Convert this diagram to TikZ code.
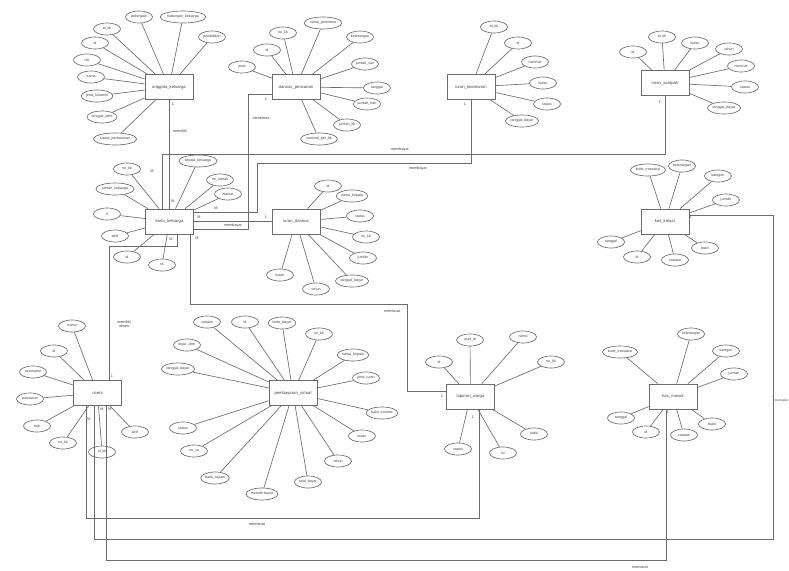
\documentclass[tikz,border=0pt]{standalone}
\usepackage{fontspec}
\setmainfont{Liberation Sans}
\usetikzlibrary{shapes.geometric}
\definecolor{linegray}{gray}{0.42}
\definecolor{textgray}{gray}{0.25}
\tikzset{
 ent/.style={draw=linegray, fill=white, line width=0.7pt, minimum width=48pt, minimum height=25pt, inner sep=0pt, text=textgray, font=\fontsize{4.2}{5}\selectfont},
 attrib/.style={draw=linegray, fill=white, line width=0.65pt, ellipse, minimum width=27pt, minimum height=12pt, inner sep=0.3pt, text=textgray, font=\fontsize{3.6}{4}\selectfont},
 conn/.style={draw=linegray, line width=0.65pt},
 lbl/.style={font=\fontsize{3.8}{4.5}\selectfont, inner sep=0pt, text=textgray, align=center},
}
\newcommand\att[4]{\node[attrib] (#1) at (#2) {#3}; \draw[conn] (#1) -- (#4);}
\begin{document}
\begin{tikzpicture}[x=1pt,y=-1pt]
\useasboundingbox (0,0) rectangle (789,570);
\fill[white] (0,0) rectangle (789,570);
% entities
\node[ent] (ak) at (169,87) {anggota\_keluarga};
\node[ent] (dp) at (296,87) {danous\_pencarian};
\node[ent] (ik) at (471,87) {iuran\_keamanan};
\node[ent] (is) at (665,83) {iuran\_sampah};
\node[ent] (kk) at (169.5,221.5) {kartu\_keluarga};
\node[ent] (idn) at (296,221.5) {iuran\_danous};
\node[ent] (kkl) at (665,221.5) {kas\_keluar};
\node[ent] (us) at (97.5,393) {users};
\node[ent] (pv) at (293,393) {pembayaran\_virtual};
\node[ent] (lw) at (470.5,396.5) {laporan\_warga};
\node[ent] (km) at (673,396.5) {kas\_masuk};
% anggota_keluarga
\att{a1}{139,17}{pekerjaan}{ak}
\att{a2}{183,17}{hubungan\_keluarga}{ak}
\att{a3}{212,37}{pendidikan}{ak}
\att{a4}{107,29}{id\_kk}{ak}
\att{a5}{95,43}{id}{ak}
\att{a6}{87,60}{nik}{ak}
\att{a7}{91,77}{nama}{ak}
\att{a8}{97,96}{jenis\_kelamin}{ak}
\att{a9}{102,117}{tanggal\_lahir}{ak}
\att{a10}{115,139}{status\_perkawinan}{ak}
% danous_pencarian
\att{p1}{242,67}{jenis}{dp}
\att{p2}{267,50}{id}{dp}
\att{p3}{283,33}{no\_kk}{dp}
\att{p4}{323,23}{nama\_penerima}{dp}
\att{p5}{360,37}{keterangan}{dp}
\att{p6}{365,64}{jumlah\_cair}{dp}
\att{p7}{377,88}{tanggal}{dp}
\att{p8}{367,104}{jumlah\_hari}{dp}
\att{p9}{347,125}{jumlah\_kk}{dp}
\att{p10}{319,139}{nominal\_per\_kk}{dp}
% iuran_keamanan
\att{k1}{494,27}{id\_kk}{ik}
\att{k2}{518,43}{id}{ik}
\att{k3}{535,62}{nominal}{ik}
\att{k4}{543,83}{bulan}{ik}
\att{k5}{547,104}{status}{ik}
\att{k6}{522,121}{tanggal\_bayar}{ik}
% iuran_sampah
\att{s1}{633,52}{id}{is}
\att{s2}{662,37}{id\_kk}{is}
\att{s3}{695,43}{bulan}{is}
\att{s4}{729,49}{tahun}{is}
\att{s5}{741,66}{nominal}{is}
\att{s6}{745,87}{status}{is}
\att{s7}{724,108}{tanggal\_bayar}{is}
% kartu_keluarga
\att{c1}{127,169}{no\_kk}{kk}
\att{c2}{198,161}{kepala\_keluarga}{kk}
\att{c3}{220,180}{no\_rumah}{kk}
\att{c4}{228,194}{alamat}{kk}
\att{c5}{115,189}{jumlah\_keluarga}{kk}
\att{c6}{107,214}{rt}{kk}
\att{c7}{115,236}{aktif}{kk}
\att{c8}{127,257}{id}{kk}
\att{c9}{162,265}{rw}{kk}
% iuran_danous
\att{d1}{328,186}{id}{idn}
\att{d2}{352,196}{nama\_kepala}{idn}
\att{d3}{360,216}{status}{idn}
\att{d4}{366,237}{no\_kk}{idn}
\att{d5}{363,258}{jumlah}{idn}
\att{d6}{352,281}{tanggal\_bayar}{idn}
\att{d7}{316,289}{tahun}{idn}
\att{d8}{280,275}{bulan}{idn}
% kas_keluar
\att{o1}{648,170}{kode\_transaksi}{kkl}
\att{o2}{682,166}{keterangan}{kkl}
\att{o3}{718,176}{kategori}{kkl}
\att{o4}{726,200}{jumlah}{kkl}
\att{o5}{705,248}{bukti}{kkl}
\att{o6}{675,260}{catatan}{kkl}
\att{o7}{637,257}{id}{kkl}
\att{o8}{611,242}{tanggal}{kkl}
% users
\att{u1}{72,326}{nama}{us}
\att{u2}{54,351}{id}{us}
\att{u3}{33,372}{username}{us}
\att{u4}{30,399}{password}{us}
\att{u5}{37,426}{role}{us}
\att{u6}{63,443}{no\_kk}{us}
\att{u7}{102,452}{id\_kk}{us}
\att{u8}{135,432}{aktif}{us}
% pembayaran_virtual
\att{v1}{207,322}{catatan}{pv}
\att{v2}{245,322}{id}{pv}
\att{v3}{282,323}{kode\_bayar}{pv}
\att{v4}{319,334}{no\_kk}{pv}
\att{v5}{353,355}{nama\_kepala}{pv}
\att{v6}{187,345}{input\_oleh}{pv}
\att{v7}{178,369}{tanggal\_bayar}{pv}
\att{v8}{366,378}{jenis\_iuran}{pv}
\att{v9}{382,413}{bukti\_transfer}{pv}
\att{v10}{362,436}{bulan}{pv}
\att{v11}{338,461}{tahun}{pv}
\att{v12}{308,482}{total\_bayar}{pv}
\att{v13}{262,494}{metode bayar}{pv}
\att{v14}{215,478}{bank\_tujuan}{pv}
\att{v15}{194,451}{no\_va}{pv}
\att{v16}{183,428}{status}{pv}
% laporan_warga
\att{w1}{439,362}{id}{lw}
\att{w2}{470,340}{user\_id}{lw}
\att{w3}{523,337}{nama}{lw}
\att{w4}{551,362}{no\_kk}{lw}
\att{w5}{534,434}{judul}{lw}
\att{w6}{503,453}{isi}{lw}
\att{w7}{458,449}{status}{lw}
% kas_masuk
\att{m1}{620,352}{kode\_transaksi}{km}
\att{m2}{691,334}{keterangan}{km}
\att{m3}{726,351}{kategori}{km}
\att{m4}{734,374}{jumlah}{km}
\att{m5}{621,418}{tanggal}{km}
\att{m6}{646,432}{id}{km}
\att{m7}{684,435}{catatan}{km}
\att{m8}{712,424}{bukti}{km}
% relationship connectors
\draw[conn] (ak.south) -- (ak.south |- kk.north);
\coordinate (r1) at (162,154);
\draw[conn] (is.south) |- (r1) -- (r1 |- kk.north);
\coordinate (r2) at (257,163);
\coordinate (r3) at (257,212);
\draw[conn] (ik.south) |- (r2) -- (r3) -- (r3 -| kk.east);
\draw[conn] (idn.west) -- (kk.east);
\coordinate (r4) at (248,94);
\coordinate (r5) at (248,229);
\draw[conn] (r4 -| dp.west) -- (r4) -- (r5) -- (r5 -| kk.east);
\coordinate (r6) at (177,246);
\coordinate (r7) at (109,246);
\draw[conn] (r6 |- kk.south) -- (r6) -- (r7) -- (r7 |- us.north);
\coordinate (r8) at (190,304);
\coordinate (r9) at (407,304);
\coordinate (r10) at (407,391);
\draw[conn] (r8 |- kk.south) -- (r8) -- (r9) -- (r10) -- (r10 -| lw.west);
\coordinate (q1) at (86,518);
\coordinate (q2) at (479,518);
\draw[conn] (q1 |- us.south) -- (q1) -- (q2) -- (q2 |- lw.south);
\coordinate (q3) at (94,539);
\coordinate (q4) at (773,539);
\coordinate (q5) at (773,215);
\draw[conn] (q3 |- us.south) -- (q3) -- (q4) -- (q5) -- (q5 -| kkl.east);
\coordinate (q6) at (106,560);
\coordinate (q7) at (666,560);
\draw[conn] (q6 |- us.south) -- (q6) -- (q7) -- (q7 |- km.south);
% labels
\node[lbl] (l1) at (173,104) {1};
\node[lbl] (l2) at (180,131) {memiliki};
\node[lbl] (l3) at (173,201) {M};
\node[lbl] (l4) at (266,99) {1};
\node[lbl] (l5) at (261,118) {menerima};
\node[lbl] (l6) at (465,104) {1};
\node[lbl] (l7) at (418,169) {membayar};
\node[lbl] (l8) at (660,102) {1};
\node[lbl] (l9) at (400,150) {membayar};
\node[lbl] (l10) at (152,171) {M};
\node[lbl] (l11) at (216,208) {M};
\node[lbl] (l12) at (199,217) {M};
\node[lbl] (l13) at (197,238) {M};
\node[lbl] (l14) at (266,217) {1};
\node[lbl] (l15) at (233,226) {membayar};
\node[lbl] (l16) at (171,239) {M};
\node[lbl] (l17) at (124,324) {memiliki\\akses};
\node[lbl] (l18) at (112,376) {1};
\node[lbl] (l19) at (392,311) {membuat};
\node[lbl] (l20) at (442,396) {1};
\node[lbl] (l21) at (89,419) {M};
\node[lbl] (l22) at (102,409) {M};
\node[lbl] (l23) at (110,409) {M};
\node[lbl] (l24) at (257,524) {membuat};
\node[lbl] (l25) at (473,417) {1};
\node[lbl] (l26) at (640,567) {mencatat};
\node[lbl] (l27) at (668,412) {1};
\node[lbl, anchor=west, font=\fontsize{3.2}{4}\selectfont] (l28) at (774.5,400) {mencatat};
\node[lbl] (l29) at (691,217) {1};
\end{tikzpicture}
\end{document}
